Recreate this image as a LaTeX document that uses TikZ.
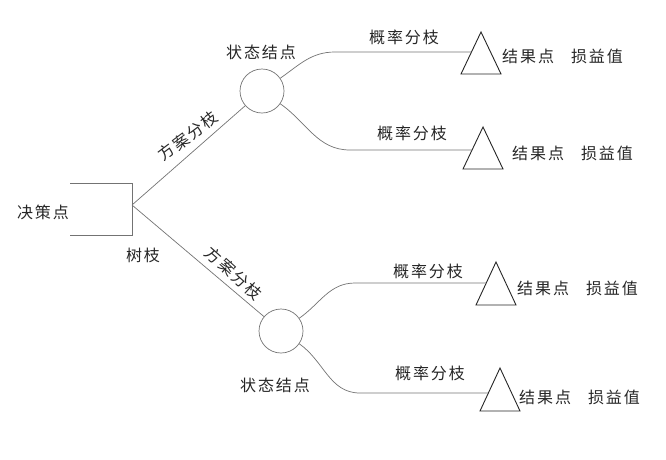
\documentclass[tikz,border=0pt]{standalone}
\usepackage{fontspec}
\setmainfont{Noto Sans CJK SC}[LetterSpace=12]
\begin{document}
\begin{tikzpicture}[x=1pt,y=-1pt,
  ln/.style={draw=black!55, line width=0.7pt},
  chance/.style={circle, draw=black!55, line width=0.7pt, minimum size=44pt, inner sep=0pt},
  tri/.style={draw=black!85, line width=0.9pt, line join=miter},
  lbl/.style={font=\fontsize{16}{18}\selectfont, text=black!85, inner sep=1pt},
  res/.style={lbl, anchor=west}]
\useasboundingbox (0,0) rectangle (666,459);
% decision point
\coordinate (dtl) at (70,183);
\coordinate (dtr) at (132,183);
\coordinate (dbl) at (70,235);
\coordinate (dbr) at (132,235);
\coordinate (dec) at (132,205);
\draw[ln] (dtl) -- (dtr) -- (dbr) -- (dbl);
\node[lbl] (declab) at (43,212) {决策点};
\node[lbl] (treelab) at (143,255) {树枝};
% chance nodes
\node[chance] (c1) at (262,91) {};
\node[chance] (c2) at (281,331) {};
\node[lbl] (c1lab) at (261,52) {状态结点};
\node[lbl] (c2lab) at (275,385) {状态结点};
% scheme branches
\draw[ln] (dec) -- (c1);
\draw[ln] (dec) -- (c2);
\node[lbl, rotate=37] (s1) at (188,136) {方案分枝};
\node[lbl, rotate=-42] (s2) at (234,273) {方案分枝};
% result triangles
\coordinate (t1a) at (481,32);
\coordinate (t1e) at (471,52);
\draw[tri] (t1a) -- (461,74) -- (501,74) -- cycle;
\coordinate (t2a) at (483,127);
\coordinate (t2e) at (472,150);
\draw[tri] (t2a) -- (463,169) -- (503,169) -- cycle;
\coordinate (t3a) at (496,262);
\coordinate (t3e) at (486,283);
\draw[tri] (t3a) -- (476,305) -- (516,305) -- cycle;
\coordinate (t4a) at (500,368);
\coordinate (t4e) at (488,393);
\draw[tri] (t4a) -- (480,411) -- (520,411) -- cycle;
% probability branches
\coordinate (b1) at (335,52);
\coordinate (b2) at (350,150);
\coordinate (b3) at (355,283);
\coordinate (b4) at (360,393);
\draw[ln] (c1.35) to[out=35,in=180] (b1) -- (t1e);
\draw[ln] (c1.-35) to[out=-35,in=180] (b2) -- (t2e);
\draw[ln] (c2.35) to[out=35,in=180] (b3) -- (t3e);
\draw[ln] (c2.-35) to[out=-35,in=180] (b4) -- (t4e);
\node[lbl] (p1) at (404,37) {概率分枝};
\node[lbl] (p2) at (412,133) {概率分枝};
\node[lbl] (p3) at (428,271) {概率分枝};
\node[lbl] (p4) at (430,373) {概率分枝};
% results
\node[res] (r1) at (501,56) {结果点\hspace{17pt}损益值};
\node[res] (r2) at (511,153) {结果点\hspace{17pt}损益值};
\node[res] (r3) at (516,288) {结果点\hspace{17pt}损益值};
\node[res] (r4) at (518,397) {结果点\hspace{17pt}损益值};
\end{tikzpicture}
\end{document}
